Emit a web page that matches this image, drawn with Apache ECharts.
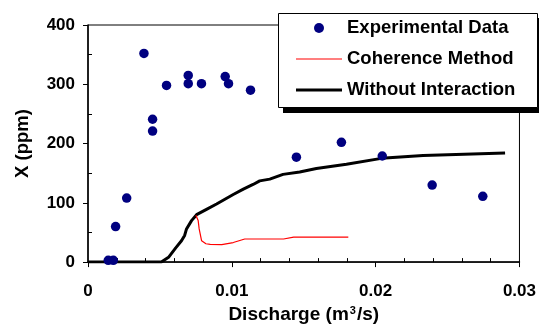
<!DOCTYPE html>
<html>
<head>
<meta charset="utf-8">
<script src="https://cdn.jsdelivr.net/npm/echarts@6/dist/echarts.min.js"></script>
<style>
  html, body { margin: 0; padding: 0; background: #fff; }
  #chart { width: 539px; height: 329px; }
</style>
</head>
<body>
<div id="chart"></div>
<script>
// Measured sediment concentration against discharge
const expQ = [0.00141, 0.00176, 0.00192, 0.00269, 0.00389, 0.00449, 0.00449, 0.00546, 0.00697, 0.00697,
              0.00789, 0.00954, 0.00977, 0.0113, 0.01449, 0.01762, 0.02046, 0.02393, 0.02745];
const expX = [3, 3, 60, 108, 352, 241, 221, 298, 315, 301,
              301, 313, 301, 290, 177, 202, 179, 130, 111];

// Model curve without interaction
const noIntQ = [0, 0.0051, 0.0056, 0.0061, 0.0065, 0.00672, 0.00685, 0.0072, 0.00755, 0.00824,
                0.00894, 0.0101, 0.0108, 0.01148, 0.01194, 0.01264, 0.01356, 0.01472, 0.01588,
                0.01797, 0.0204, 0.0233, 0.029];
const noIntX = [0, 0, 8, 24, 36, 45, 56, 70, 80, 89,
                98, 114, 123, 131, 137, 140, 148, 152, 158,
                165, 175, 180, 184];

// Coherence method curve
const cohQ = [0.0075, 0.00766, 0.00773, 0.0079, 0.0082, 0.0085, 0.0093, 0.0101, 0.0109, 0.0136, 0.0143, 0.0181];
const cohX = [79, 70, 56, 36, 31, 30, 29.5, 33, 39, 39, 42, 42];

const xTicks = [0, 0.01, 0.02, 0.03];
const yTicks = [0, 100, 200, 300, 400];

const pairs = (xs, ys) => xs.map((x, i) => [x, ys[i]]);
const FONT = 'Arial, "Liberation Sans", sans-serif';

const chart = echarts.init(document.getElementById('chart'), null, { renderer: 'canvas' });

chart.setOption({
  animation: false,
  backgroundColor: '#ffffff',
  grid: {
    left: 88, right: 19, top: 25, bottom: 65,
    show: true, borderColor: '#000', borderWidth: 1, backgroundColor: 'transparent'
  },
  xAxis: {
    type: 'value',
    min: xTicks[0], max: xTicks[xTicks.length - 1], interval: 0.01,
    name: 'Discharge (m{sup|3}/s)',
    nameLocation: 'middle', nameGap: 37,
    nameTextStyle: {
      fontFamily: FONT, fontWeight: 'bold', fontSize: 19, color: '#000',
      rich: { sup: { fontFamily: FONT, fontWeight: 'bold', fontSize: 11, color: '#000', verticalAlign: 'top', padding: [0, 1, 0, 1] } }
    },
    axisLine: { show: true, lineStyle: { color: '#000', width: 1.5 } },
    axisTick: { show: true, inside: false, length: 5, lineStyle: { color: '#000', width: 1 } },
    minorTick: { show: true, splitNumber: 5, length: -4, lineStyle: { color: '#000', width: 1 } },
    splitLine: { show: false },
    axisLabel: {
      margin: 21, fontFamily: FONT, fontWeight: 'bold', fontSize: 17, color: '#000',
      formatter: v => String(xTicks.find(t => Math.abs(t - v) < 1e-9) ?? v)
    }
  },
  yAxis: {
    type: 'value',
    min: yTicks[0], max: yTicks[yTicks.length - 1], interval: 100,
    name: 'X (ppm)',
    nameLocation: 'middle', nameGap: 56,
    nameTextStyle: { fontFamily: FONT, fontWeight: 'bold', fontSize: 18.5, color: '#000' },
    axisLine: { show: true, lineStyle: { color: '#000', width: 1.5 } },
    axisTick: { show: true, inside: false, length: 5, lineStyle: { color: '#000', width: 1 } },
    minorTick: { show: true, splitNumber: 2, length: -4, lineStyle: { color: '#000', width: 1 } },
    splitLine: { show: false },
    axisLabel: { margin: 13, fontFamily: FONT, fontWeight: 'bold', fontSize: 17, color: '#000' }
  },
  // legend frame with a hard drop shadow, on its own layer above the plot
  graphic: {
    zlevel: 1,
    elements: [
      { type: 'rect', id: 'frameShadowBottom', zlevel: 1, z: 1, shape: { x: 283, y: 107, width: 256, height: 6 }, style: { fill: '#000' } },
      { type: 'rect', id: 'frameShadowRight', zlevel: 1, z: 1, shape: { x: 533, y: 18, width: 6, height: 95 }, style: { fill: '#000' } },
      { type: 'rect', id: 'frameBox', zlevel: 1, z: 2, shape: { x: 278.5, y: 13.5, width: 259, height: 94 }, style: { fill: '#fff', stroke: '#000', lineWidth: 1 } }
    ]
  },
  legend: {
    zlevel: 2,
    z: 10,
    orient: 'vertical',
    left: 296, top: 18,
    padding: 0,
    itemWidth: 46, itemHeight: 10, itemGap: 11,
    textStyle: { fontFamily: FONT, fontWeight: 'bold', fontSize: 18.5, color: '#000', lineHeight: 20 },
    data: [
      { name: 'Experimental Data', icon: 'circle' },
      { name: 'Coherence Method', icon: 'path://M0,0h46v1.2h-46z', itemStyle: { color: '#ff0000', borderWidth: 0 } },
      { name: 'Without Interaction', icon: 'path://M0,0h46v3h-46z', itemStyle: { color: '#000', borderWidth: 0 } }
    ]
  },
  series: [
    {
      name: 'Without Interaction', type: 'line', symbol: 'none', smooth: false,
      data: pairs(noIntQ, noIntX),
      lineStyle: { color: '#000', width: 3 }, itemStyle: { color: '#000' }, z: 3
    },
    {
      name: 'Coherence Method', type: 'line', symbol: 'none', smooth: false,
      data: pairs(cohQ, cohX),
      lineStyle: { color: '#ff0000', width: 1.2 }, itemStyle: { color: '#ff0000' }, z: 4
    },
    {
      name: 'Experimental Data', type: 'scatter', symbol: 'circle', symbolSize: 9.5,
      data: pairs(expQ, expX),
      itemStyle: { color: '#000080', opacity: 1 }, z: 5
    }
  ]
});
</script>
</body>
</html>
